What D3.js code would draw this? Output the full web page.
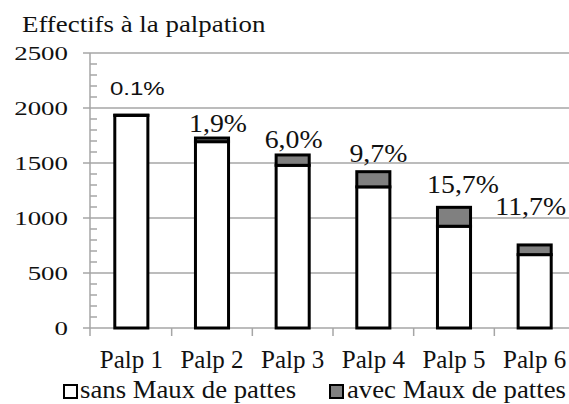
<!DOCTYPE html>
<html>
<head>
<meta charset="utf-8">
<script src="https://cdn.jsdelivr.net/npm/d3@7.9.0/dist/d3.min.js"></script>
<style>
  body { margin: 0; background: #fff; }
  svg { display: block; }
  .serif { font-family: "Liberation Serif", "DejaVu Serif", "Times New Roman", serif; }
  .sans { font-family: "Liberation Sans", Arial, sans-serif; }
</style>
</head>
<body>
<svg id="chart" width="569" height="404"></svg>
<script>
const categories = ["Palp 1", "Palp 2", "Palp 3", "Palp 4", "Palp 5", "Palp 6"];
const sans = [1933, 1694, 1479, 1283, 925, 667];
const avec = [2, 33, 94, 138, 172, 88];
const pctLabels = ["0.1%", "1,9%", "6,0%", "9,7%", "15,7%", "11,7%"];
const yTicks = [0, 500, 1000, 1500, 2000, 2500];
const seriesNames = ["sans Maux de pattes", "avec Maux de pattes"];

// labels were hand placed in the original: shift from bar centre / lift above bar top (px)
const labelDx = [6, 6, 1, 5, 9, -4];
const labelLift = [20, 6.5, 7, 10, 14.5, 30];

const svg = d3.select("#chart");

const x = d3.scaleBand()
  .domain(categories)
  .range([91, 575])
  .paddingInner(0.59)
  .paddingOuter(0.295);

const y = d3.scaleLinear()
  .domain([0, 2500])
  .range([328, 53]);

// text helper: the original's text is stretched sideways by different amounts
function label(parent, cls, px, py, size, sx, anchor, str) {
  return parent.append("text")
    .attr("class", cls)
    .attr("transform", `translate(${px},${py}) scale(${sx},1)`)
    .attr("text-anchor", anchor)
    .attr("font-size", size + "px")
    .attr("fill", "#111")
    .text(str);
}

// title
label(svg, "serif", 22, 32, 24, 1.12, "start", "Effectifs à la palpation");

// gridlines
svg.append("g")
  .selectAll("line")
  .data(yTicks)
  .join("line")
  .attr("x1", 83)
  .attr("x2", 569)
  .attr("y1", d => y(d))
  .attr("y2", d => y(d))
  .attr("stroke", "#a6a6a6")
  .attr("stroke-width", 1.5);

// minor ticks on y axis
svg.append("g")
  .selectAll("line")
  .data(d3.range(0, 2500, 100).filter(v => v % 500 !== 0))
  .join("line")
  .attr("x1", 90)
  .attr("x2", 97)
  .attr("y1", d => y(d))
  .attr("y2", d => y(d))
  .attr("stroke", "#a6a6a6")
  .attr("stroke-width", 1.5);

// y axis line
svg.append("line")
  .attr("x1", 90).attr("x2", 90)
  .attr("y1", y(2500)).attr("y2", y(0) + 8)
  .attr("stroke", "#a6a6a6")
  .attr("stroke-width", 1.5);

// y tick labels
const yLab = svg.append("g");
yTicks.forEach(t => label(yLab, "serif", 68, y(t) + 7, 19.5, 1.38, "end", t));

// x axis category ticks
svg.append("g")
  .selectAll("line")
  .data(d3.range(1, categories.length + 1))
  .join("line")
  .attr("x1", i => x.range()[0] + i * x.step())
  .attr("x2", i => x.range()[0] + i * x.step())
  .attr("y1", y(0))
  .attr("y2", y(0) + 8)
  .attr("stroke", "#a6a6a6")
  .attr("stroke-width", 1.5);

// category labels
const xLab = svg.append("g");
categories.forEach(c => label(xLab, "serif", x(c) + x.bandwidth() / 2, 368, 25, 1, "middle", c));

// stacked bars
const rows = categories.map((c, i) => ({ c, sans: sans[i], avec: avec[i], pct: pctLabels[i], i }));

svg.append("g")
  .selectAll("rect")
  .data(rows)
  .join("rect")
  .attr("x", d => x(d.c))
  .attr("width", x.bandwidth())
  .attr("y", d => y(d.sans))
  .attr("height", d => y(0) - y(d.sans))
  .attr("fill", "#fff")
  .attr("stroke", "#000")
  .attr("stroke-width", 3);

svg.append("g")
  .selectAll("rect")
  .data(rows)
  .join("rect")
  .attr("x", d => x(d.c))
  .attr("width", x.bandwidth())
  .attr("y", d => y(d.sans + d.avec))
  .attr("height", d => y(d.sans) - y(d.sans + d.avec))
  .attr("fill", "#808080")
  .attr("stroke", "#000")
  .attr("stroke-width", 3);

// percentage labels
const pLab = svg.append("g");
rows.forEach(d => {
  const px = x(d.c) + x.bandwidth() / 2 + labelDx[d.i];
  const py = y(d.sans + d.avec) - labelLift[d.i];
  if (d.i === 0) label(pLab, "sans", px, py, 18.5, 1.3, "middle", d.pct);
  else label(pLab, "serif", px, py, 26, 1.07, "middle", d.pct);
});

// legend
const legend = svg.append("g");
const legendItems = [
  { name: seriesNames[0], fill: "#fff", x: 63, tx: 80 },
  { name: seriesNames[1], fill: "#808080", x: 329, tx: 347 }
];
legendItems.forEach(it => {
  legend.append("rect")
    .attr("x", it.x + 1)
    .attr("y", 385)
    .attr("width", 13)
    .attr("height", 13)
    .attr("fill", it.fill)
    .attr("stroke", "#000")
    .attr("stroke-width", 2);
  label(legend, "serif", it.tx, 398, 25, 1.07, "start", it.name);
});
</script>
</body>
</html>
